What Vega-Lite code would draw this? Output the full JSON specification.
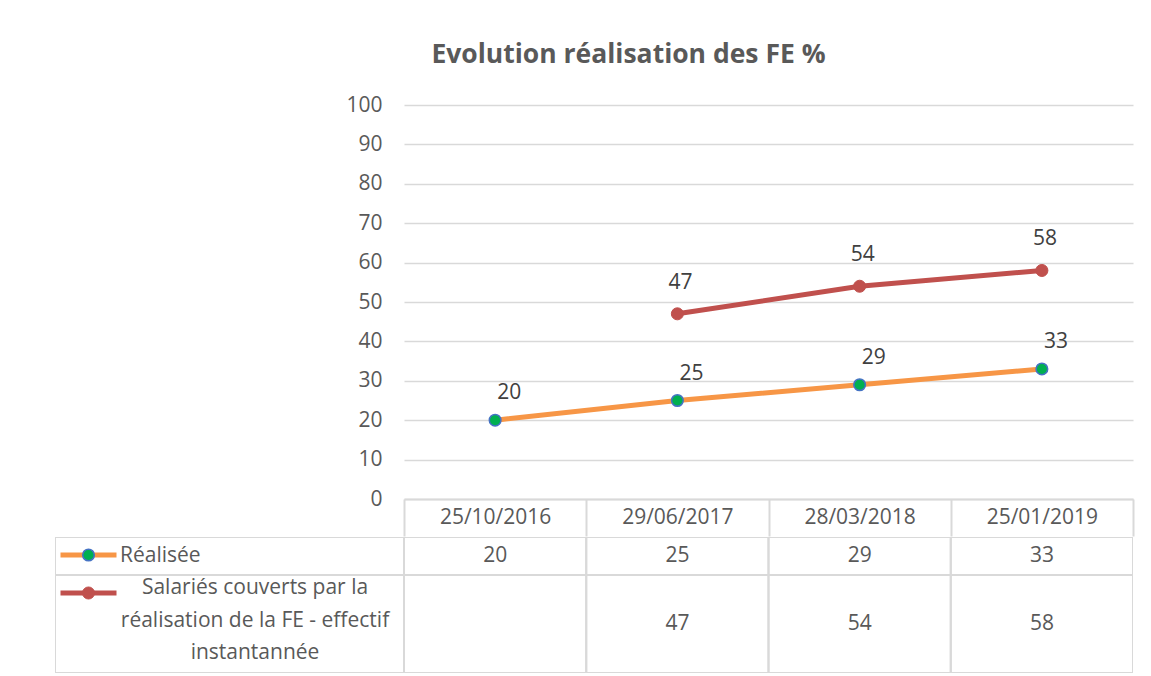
{
  "$schema": "https://vega.github.io/schema/vega-lite/v6.json",
  "background": "white",
  "padding": {"left": 55, "top": 41, "right": 18, "bottom": 4},
  "config": {"view": {"stroke": null}, "concat": {"spacing": 0}, "font": "Open Sans"},
  "title": {"text": "Evolution réalisation des FE %", "font": "Open Sans", "fontSize": 26.5, "fontWeight": "bold", "color": "#595959", "anchor": "middle", "dx": 34, "offset": 26},
  "datasets": {
    "points": [
      {"series": "Réalisée", "date": "25/10/2016", "value": 20},
      {"series": "Réalisée", "date": "29/06/2017", "value": 25},
      {"series": "Réalisée", "date": "28/03/2018", "value": 29},
      {"series": "Réalisée", "date": "25/01/2019", "value": 33},
      {"series": "Salariés couverts par la réalisation de la FE - effectif instantannée", "date": "29/06/2017", "value": 47},
      {"series": "Salariés couverts par la réalisation de la FE - effectif instantannée", "date": "28/03/2018", "value": 54},
      {"series": "Salariés couverts par la réalisation de la FE - effectif instantannée", "date": "25/01/2019", "value": 58}
    ],
    "legend": [
      {"series": "Réalisée", "label": "Réalisée"},
      {"series": "Salariés couverts par la réalisation de la FE - effectif instantannée", "label": "Salariés couverts par la\nréalisation de la FE - effectif\ninstantannée"}
    ]
  },
  "bounds": "full",
  "spacing": 0,
  "vconcat": [
    {
      "bounds": "flush",
      "spacing": 0,
      "hconcat": [
        {"width": 349, "height": 394, "data": {"name": "legend"}, "mark": {"type": "text"}, "encoding": {"text": {"value": ""}}},
        {
          "width": 729,
          "height": 394,
          "data": {"name": "points"},
          "encoding": {
            "x": {"field": "date", "type": "ordinal", "sort": null, "bandPosition": 0.5, "scale": {"type": "band", "paddingInner": 0, "paddingOuter": 0, "domain": ["25/10/2016", "29/06/2017", "28/03/2018", "25/01/2019"]}, "axis": {"orient": "bottom", "title": null, "labelAngle": 0, "domain": true, "domainColor": "#d9d9d9", "domainWidth": 2, "ticks": true, "tickBand": "extent", "tickSize": 37, "tickColor": "#d9d9d9", "tickWidth": 2, "labelPadding": -18.5, "labelBaseline": "middle", "labelFont": "Open Sans", "labelFontSize": 21, "labelColor": "#595959", "labelOverlap": false, "labelFlush": false, "grid": false}},
            "y": {"field": "value", "type": "quantitative", "scale": {"domain": [0, 100], "nice": false}, "axis": {"values": [0, 10, 20, 30, 40, 50, 60, 70, 80, 90, 100], "grid": true, "gridColor": "#d9d9d9", "gridWidth": 1.5, "domain": false, "ticks": false, "labelColor": "#595959", "labelFont": "Open Sans", "labelFontSize": 21, "labelPadding": 22, "title": null}}
          },
          "layer": [
            {"transform": [{"filter": "datum.series === 'Réalisée'"}], "mark": {"type": "line", "color": "#F79646", "strokeWidth": 5}},
            {"transform": [{"filter": "datum.series === 'Réalisée'"}], "mark": {"type": "point", "filled": true, "fill": "#00B050", "stroke": "#4472C4", "strokeWidth": 1.5, "size": 135, "opacity": 1}},
            {"transform": [{"filter": "datum.series === 'Réalisée'"}], "mark": {"type": "text", "color": "#404040", "font": "Open Sans", "fontSize": 21, "dy": -27, "dx": 14, "baseline": "middle"}, "encoding": {"text": {"field": "value", "type": "quantitative"}}},
            {"transform": [{"filter": "datum.series !== 'Réalisée'"}], "mark": {"type": "line", "color": "#C0504D", "strokeWidth": 5}},
            {"transform": [{"filter": "datum.series !== 'Réalisée'"}], "mark": {"type": "point", "filled": true, "fill": "#C0504D", "stroke": "#C0504D", "strokeWidth": 1, "size": 145, "opacity": 1}},
            {"transform": [{"filter": "datum.series !== 'Réalisée'"}], "mark": {"type": "text", "color": "#404040", "font": "Open Sans", "fontSize": 21, "dy": -31, "dx": 3, "baseline": "middle"}, "encoding": {"text": {"field": "value", "type": "quantitative"}}}
          ]
        }
      ]
    },
    {
      "bounds": "full",
      "spacing": 0,
      "hconcat": [
        {
          "bounds": "flush",
          "spacing": 0,
          "vconcat": [
            {
              "width": 349,
              "height": 38,
              "data": {"name": "legend"},
              "transform": [{"filter": "datum.series === 'Réalisée'"}],
              "layer": [
                {"mark": {"type": "rect", "fill": "transparent", "stroke": "#d9d9d9", "strokeWidth": 2, "clip": true}, "encoding": {"x": {"field": "series", "type": "nominal", "scale": {"type": "band", "paddingInner": 0, "paddingOuter": 0}, "axis": null}}},
                {"mark": {"type": "tick", "orient": "horizontal", "color": "#F79646", "size": 56, "thickness": 5, "xOffset": -141, "yOffset": -1, "opacity": 1}, "encoding": {}},
                {"mark": {"type": "point", "filled": true, "fill": "#00B050", "stroke": "#4472C4", "strokeWidth": 1.5, "size": 135, "xOffset": -141, "yOffset": -1, "opacity": 1}, "encoding": {}},
                {"mark": {"type": "text", "align": "left", "baseline": "middle", "dx": -109.5, "font": "Open Sans", "fontSize": 21, "color": "#595959"}, "encoding": {"text": {"field": "label"}}}
              ]
            },
            {
              "width": 349,
              "height": 98,
              "data": {"name": "legend"},
              "transform": [{"filter": "datum.series !== 'Réalisée'"}],
              "layer": [
                {"mark": {"type": "rect", "fill": "transparent", "stroke": "#d9d9d9", "strokeWidth": 2, "clip": true}, "encoding": {"x": {"field": "series", "type": "nominal", "scale": {"type": "band", "paddingInner": 0, "paddingOuter": 0}, "axis": null}}},
                {"mark": {"type": "tick", "orient": "horizontal", "color": "#C0504D", "size": 56, "thickness": 5, "xOffset": -141, "yOffset": -31, "opacity": 1}, "encoding": {}},
                {"mark": {"type": "point", "filled": true, "fill": "#C0504D", "stroke": "#C0504D", "strokeWidth": 1, "size": 145, "xOffset": -141, "yOffset": -31, "opacity": 1}, "encoding": {}},
                {"mark": {"type": "text", "align": "center", "baseline": "middle", "dx": 25.5, "dy": -36, "lineBreak": "\n", "lineHeight": 32.5, "font": "Open Sans", "fontSize": 21, "color": "#595959"}, "encoding": {"text": {"field": "label"}}}
              ]
            }
          ]
        },
        {
          "bounds": "flush",
          "spacing": 0,
          "vconcat": [
            {
              "width": 729,
              "height": 38,
              "data": {"name": "points"},
              "encoding": {"x": {"field": "date", "type": "ordinal", "sort": null, "scale": {"type": "band", "paddingInner": 0, "paddingOuter": 0, "domain": ["25/10/2016", "29/06/2017", "28/03/2018", "25/01/2019"]}, "axis": null}},
              "layer": [
                {"transform": [{"filter": "datum.series === 'Réalisée'"}], "mark": {"type": "rect", "fill": "transparent", "stroke": "#d9d9d9", "strokeWidth": 2, "clip": true}},
                {"transform": [{"filter": "datum.series === 'Réalisée'"}], "mark": {"type": "text", "font": "Open Sans", "fontSize": 21, "color": "#595959", "baseline": "middle"}, "encoding": {"text": {"field": "value", "type": "quantitative"}}}
              ]
            },
            {
              "width": 729,
              "height": 98,
              "data": {"name": "points"},
              "encoding": {"x": {"field": "date", "type": "ordinal", "sort": null, "scale": {"type": "band", "paddingInner": 0, "paddingOuter": 0, "domain": ["25/10/2016", "29/06/2017", "28/03/2018", "25/01/2019"]}, "axis": null}},
              "layer": [
                {"transform": [{"filter": "datum.series === 'Réalisée'"}], "mark": {"type": "rect", "fill": "transparent", "stroke": "#d9d9d9", "strokeWidth": 2, "clip": true}},
                {"transform": [{"filter": "datum.series !== 'Réalisée'"}], "mark": {"type": "text", "font": "Open Sans", "fontSize": 21, "color": "#595959", "baseline": "middle"}, "encoding": {"text": {"field": "value", "type": "quantitative"}}}
              ]
            }
          ]
        }
      ]
    }
  ]
}
